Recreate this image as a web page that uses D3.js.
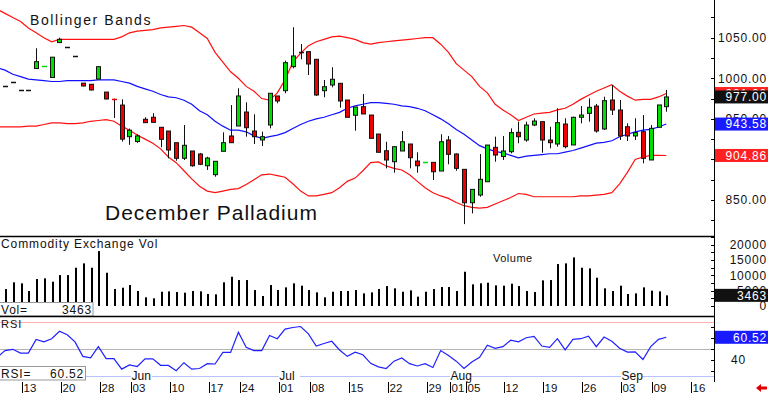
<!DOCTYPE html>
<html>
<head>
<meta charset="utf-8">
<script src="https://cdn.jsdelivr.net/npm/d3@7"></script>
<style>
  html, body { margin: 0; padding: 0; background: #fff; }
  svg { display: block; font-family: "Liberation Sans", Arial, sans-serif; }
</style>
</head>
<body>
<svg id="chart" width="768" height="393"></svg>
<script>
// daily bars, index 0..85
const opens = [990,995,986,986,1012,1014,1001,1044,1039,1027,
  994,992.6,999,983,974.8,967,928,922,949.5,952,
  939.6,935,920.6,901.4,910.4,906.7,892.2,881.2,910,928.9,
  941.2,958.4,935,924,942.4,978.2,984.7,1014.3,1032.8,1032.8,
  1023.4,984.7,991.7,993.8,973.2,954.4,965,954.7,931.3,910.7,
  897.2,910.4,919,898,896.2,896.4,885.7,924,906.7,887.8,
  846.6,856.1,872.5,914.9,903.5,909.5,933.4,923.9,942.4,946.5,
  923.9,919,943.6,917.8,951.9,956.8,965.8,937.5,973.2,960.9,
  940.3,928.9,934.2,899.3,939.6,965];
const highs = [990,995,986,986,1037,1014.6,1026,1050,1039,1027,
  994,992.6,1014.3,983,975,974,938,931,952,957,
  939.6,935,920.6,942.4,910.4,908,903.3,897.7,933.4,967,
  987.7,970.4,955.6,934.2,981.5,978.2,1021.7,1062.9,1042.3,1032.8,
  1023.4,997.9,1013.6,993.8,973.2,964.6,980.6,954.7,931.3,921.8,
  915.7,935,919,908.8,896.6,896.4,931,928.9,907.5,887.8,
  863.1,906.7,917.7,928,928.9,938.3,946.5,946.5,950.7,946.5,
  940.3,963,950.7,952.7,965.8,975.3,968.3,977.3,991.7,973.2,
  944.5,950.7,954.7,942.4,967.1,985.6];
const lows = [990,995,986,986,1012,1014,1001,1044,1039,1027,
  990,985,999,974,951,922,918,920.5,945,945.5,
  915,901.4,898.4,899.3,891,893,887,878.7,910,920.6,
  941.2,928,919,916.5,938.3,969.2,981.5,1012.3,1023.4,1004,
  978.2,976.6,988.9,963.7,951.9,935.4,956,926,908.8,889,
  883.6,910.4,889,883.6,896.2,874.6,885.7,894,886,820.3,
  833.5,854,872.5,897.2,899.3,907.5,919.9,921.8,941,908.3,
  913.7,915.7,913.7,917.8,944.5,946.5,933,936.3,954.7,923.9,
  922.7,923.9,895.2,899.3,939.6,958.8];
const closes = [990,995,986,986,1020.5,1014.6,1026,1048,1039,1027,
  990.5,985.6,1014.3,974.5,974.3,925,936,929,945.3,945.7,
  924.8,911.6,901.4,917.4,892.2,894,901.7,897.7,920.6,920.6,
  978.2,939.1,928,928,981.5,972,1019.2,1027.5,1032.8,1017.6,
  979.4,989.6,998.8,972,951.9,964.6,956,926,908.8,899.3,
  915.7,921.8,902.1,892.2,896.6,884.8,921.8,906.3,889,846.6,
  863.1,875.5,917.7,905.4,910.4,933,928,942.4,947.3,923.9,
  920.6,945.3,915.7,951.9,954.7,964.2,935,972.4,960.9,928.9,
  928.9,933,901.4,938.3,967.1,977];
const volumes = [5520,7700,7370,4870,8770,8990,7900,10060,10060,12440,
  13860,12440,17860,10810,5520,5950,6820,4870,2820,2500,
  4640,4760,4550,4330,4870,4760,3900,3790,7700,9520,
  8440,8440,5190,3250,6820,5190,6060,7370,6600,5190,
  4440,2820,4640,4870,4870,5190,4110,4440,5520,6490,
  5740,4640,5080,3030,4640,5520,6170,6170,4870,11140,
  7040,7370,7570,6710,6600,7250,6490,4870,4550,8330,
  8440,13640,13860,15800,12440,12230,9200,5740,4870,6600,
  3900,4110,6060,4980,4760,3463];

// indicator series start one bar earlier (index -1, just off the left edge)
const rsi = [42, 48.3,49.5,46,46,58.6,56.3,59.2,66,62.8,56.3,
  43,41.6,51.9,41,41,31.3,35.1,33.7,40.7,40.7,
  34.8,34.7,29.8,37.2,31.3,31.9,36.3,36,46.6,46.6,
  65.1,51.3,48.3,48.3,62.2,59.2,68,69.5,70.4,63.7,
  52.5,54.8,56.9,48.9,43,46.9,44.5,36.6,33.4,31.9,
  38.6,41.6,36.3,34.2,36.3,32.8,48.3,43.7,38.6,31.9,
  37.8,42.2,53.3,50.4,51.9,57.8,56.3,60.1,61.3,52.5,
  51.3,59.2,48.9,58.6,59.2,61.6,51.9,60.7,56.9,50.4,
  46.9,47.2,40.1,51.9,58.6,60.52];
const bbUpper = [1085, 1080,1075,1070,1062,1056,1050,1045,1048,1048,1048,
  1048,1048,1048,1048,1048,1051,1056,1058,1059,1060,
  1062,1063,1064,1065,1063,1056,1049,1032,1020,1008,
  1000,990,984,975,973,982,998,1020,1031,1040,
  1045,1048,1051,1052,1050,1048,1044,1042,1044,1045,
  1046,1047,1048,1049,1050,1050,1042,1032,1018,1010,
  1002,990,982,968,961,955,948,952,956,957,
  958,961,963,968,974,979,984,988,992,984,
  978,973,974,974,977,981.2];
const bbMiddle = [1013, 1010,1005,1002,999,998,997,996,996,997,997,
  997,997,998,998,998,996,994,990,987,984,
  980,977,976,973,968,960,955,947,941,936,
  936,934,929,926,928,930,933,938,943,947,
  950,952,955,958,963,966,968,970,970,969,
  968,966,965,963,960,955,950,944,937,931,
  924,917,913,910,908,905,902,904,905,906,
  907,907,909,911,914,917,920,921,923,928,
  931,934,936,937,940,943.58];
const bbLower = [940, 940,940,940,941,941,943,945,945,944,944,
  945,947,948,949,947,941,936,930,925,920,
  913,903,896,886,876,867,861,859,861,863,
  864,869,875,881,882,880,878,870,861,855,
  855,857,859,865,873,877,886,896,897,892,
  889,887,881,873,865,859,855,852,847,843,
  841,840,841,845,849,853,858,857,854,854,
  854,854,854,854,855,855,856,857,859,870,
  884,900,903,905,905,904.86];

const tickIdx = [2,7,12,16,21,26,30,35,39,44,49,54,57,59,64,69,74,79,83,88];
const tickLabels = ["13","20","28","03","10","17","24","01","08","15","22","29","01","05","12","19","26","03","09","16"];
const monthIdx = [16,35,57,79];
const monthLabels = ["Jun","Jul","Aug","Sep"];
const priceTicks = [850,950,1000,1050];
const volTicks = [0,5000,10000,15000,20000];
const rsiTicks = [40];

const svg = d3.select('#chart');
const axisX = 714.5;
const green = '#00dd00', red = '#ee0000';

const x = d3.scaleLinear().domain([0, 85]).range([5, 666.3]);
const yP = d3.scaleLinear().domain([850, 1050]).range([200, 37.7]);
const yV = d3.scaleLinear().domain([0, 20000]).range([306, 244.5]);
const yR = d3.scaleLinear().domain([25, 75]).range([376, 321.5]);

const defs = svg.append('defs');
[['clipP', 0, 0, 714, 236], ['clipV', 0, 237, 714, 79], ['clipR', 0, 317, 714, 65]]
  .forEach(([id, cx, cy, cw, ch]) => {
    defs.append('clipPath').attr('id', id).append('rect')
      .attr('x', cx).attr('y', cy).attr('width', cw).attr('height', ch);
  });

// ---------- price panel ----------
const gP = svg.append('g').attr('clip-path', 'url(#clipP)');
const bandIdx = d3.range(-1, 86);
const bandLine = arr => d3.line().x((d, k) => x(bandIdx[k])).y(d => yP(d))(arr);

gP.append('path').attr('d', bandLine(bbUpper)).attr('fill', 'none').attr('stroke', '#ff1010').attr('stroke-width', 1.2);
gP.append('path').attr('d', bandLine(bbLower)).attr('fill', 'none').attr('stroke', '#ff1010').attr('stroke-width', 1.2);
gP.append('path').attr('d', bandLine(bbMiddle)).attr('fill', 'none').attr('stroke', '#1010ff').attr('stroke-width', 1.2);

const bars = d3.range(86).map(i => ({ i, o: opens[i], h: highs[i], l: lows[i], c: closes[i] }));
const cg = gP.selectAll('g.candle').data(bars).enter().append('g').attr('class', 'candle');

cg.filter(d => d.h !== d.l).append('line')
  .attr('x1', d => Math.round(x(d.i)) + 0.5).attr('x2', d => Math.round(x(d.i)) + 0.5)
  .attr('y1', d => yP(d.h)).attr('y2', d => yP(d.l))
  .attr('stroke', '#111').attr('stroke-width', 1);

const isDash = d => Math.abs(yP(d.o) - yP(d.c)) < 1.2;
cg.filter(d => !isDash(d)).append('rect')
  .attr('x', d => Math.round(x(d.i)) - 1.5)
  .attr('width', 4)
  .attr('y', d => Math.min(yP(d.o), yP(d.c)))
  .attr('height', d => Math.abs(yP(d.o) - yP(d.c)))
  .attr('fill', d => d.c > d.o ? green : red)
  .attr('stroke', '#111').attr('stroke-width', 1);
cg.filter(isDash).append('line')
  .attr('x1', d => Math.round(x(d.i)) - 2).attr('x2', d => Math.round(x(d.i)) + 3)
  .attr('y1', d => Math.round(yP(d.c)) + 0.5).attr('y2', d => Math.round(yP(d.c)) + 0.5)
  .attr('stroke', d => d.c > d.o ? green : d.c < d.o ? red : '#111')
  .attr('stroke-width', 1.5);

svg.append('text').attr('x', 30).attr('y', 25).attr('font-size', 14).attr('letter-spacing', 1.6)
  .attr('fill', '#111').text('Bollinger Bands');
svg.append('text').attr('x', 105).attr('y', 219.5).attr('font-size', 21).attr('letter-spacing', 1)
  .attr('fill', '#111').text('December Palladium');

// ---------- volume panel ----------
const gV = svg.append('g').attr('clip-path', 'url(#clipV)');
gV.selectAll('rect.vol').data(volumes).enter().append('rect')
  .attr('x', (d, i) => Math.round(x(i)))
  .attr('width', 2)
  .attr('y', d => yV(d))
  .attr('height', d => yV(0) - yV(d))
  .attr('fill', '#000');

svg.append('text').attr('x', 1).attr('y', 248).attr('font-size', 12).attr('letter-spacing', 0.9)
  .attr('fill', '#111').text('Commodity Exchange Vol');
svg.append('text').attr('x', 493).attr('y', 262).attr('font-size', 11).attr('letter-spacing', 0.5)
  .attr('fill', '#111').text('Volume');

svg.append('rect').attr('x', -1).attr('y', 302.5).attr('width', 94).attr('height', 13.5)
  .attr('fill', '#fff').attr('stroke', '#999');
svg.append('text').attr('x', 1).attr('y', 313.5).attr('font-size', 12).attr('letter-spacing', 0.8)
  .attr('fill', '#111').text('Vol=');
svg.append('text').attr('x', 92).attr('y', 313.5).attr('font-size', 12).attr('letter-spacing', 0.8)
  .attr('text-anchor', 'end').attr('fill', '#111').text(d3.format('d')(volumes[85]));

// ---------- RSI panel ----------
const gR = svg.append('g').attr('clip-path', 'url(#clipR)');
[[75, '#ffb0b0'], [50, '#b4b4b4'], [25, '#b8c0ff']].forEach(([v, col]) => {
  gR.append('line').attr('x1', 0).attr('x2', 714)
    .attr('y1', Math.round(yR(v)) + 0.5).attr('y2', Math.round(yR(v)) + 0.5)
    .attr('stroke', col).attr('stroke-width', 1);
});
gR.append('path')
  .attr('d', d3.line().x((d, k) => x(bandIdx[k])).y(d => yR(d))(rsi))
  .attr('fill', 'none').attr('stroke', '#2020ff').attr('stroke-width', 1.2);

monthIdx.forEach((mi, k) => {
  const mx = x(mi) + 1.5;
  svg.append('rect').attr('x', mx).attr('y', 369.5).attr('width', 21).attr('height', 11).attr('fill', '#fff');
  svg.append('text').attr('x', mx + 0.5).attr('y', 379.5).attr('font-size', 12)
    .attr('fill', '#111').text(monthLabels[k]);
});

svg.append('text').attr('x', 1).attr('y', 328).attr('font-size', 11).attr('letter-spacing', 1)
  .attr('fill', '#111').text('RSI');
svg.append('rect').attr('x', -1).attr('y', 366.5).attr('width', 86.5).attr('height', 13.5)
  .attr('fill', '#fff').attr('stroke', '#999');
svg.append('text').attr('x', 1).attr('y', 377.5).attr('font-size', 12).attr('letter-spacing', 0.8)
  .attr('fill', '#111').text('RSI=');
svg.append('text').attr('x', 84).attr('y', 377.5).attr('font-size', 12).attr('letter-spacing', 0.8)
  .attr('text-anchor', 'end').attr('fill', '#111').text(d3.format('.2f')(rsi[rsi.length - 1]));

// ---------- panel frames ----------
[236.5, 316.5].forEach(yy => {
  svg.append('line').attr('x1', 0).attr('x2', axisX).attr('y1', yy).attr('y2', yy)
    .attr('stroke', '#000').attr('stroke-width', 1.3);
});
svg.append('line').attr('x1', axisX).attr('x2', axisX).attr('y1', 0).attr('y2', 382)
  .attr('stroke', '#000').attr('stroke-width', 1);

// minor ticks on the right axis
const minor = [];
d3.range(825, 1101, 25).forEach(v => minor.push(yP(v)));
d3.range(0, 22501, 2500).forEach(v => minor.push(yV(v)));
d3.range(30, 71, 10).forEach(v => minor.push(yR(v)));
svg.selectAll('line.minor').data(minor).enter().append('line')
  .attr('x1', axisX - 3.5).attr('x2', axisX)
  .attr('y1', d => Math.round(d) + 0.5).attr('y2', d => Math.round(d) + 0.5)
  .attr('stroke', '#000');

// right axis labels
const rightText = (yy, txt, col, anchor, xx) => svg.append('text')
  .attr('x', xx).attr('y', yy + 4.3).attr('font-size', 12).attr('letter-spacing', 0.8)
  .attr('text-anchor', anchor).attr('fill', col).text(txt);

priceTicks.forEach(v => rightText(yP(v), d3.format('.2f')(v), '#111', 'end', 767));
volTicks.forEach(v => rightText(yV(v), d3.format('d')(v), '#111', 'end', 767));
rsiTicks.forEach(v => rightText(yR(v), d3.format('d')(v), '#111', 'start', 731));

// highlighted last values
const badge = (yy, txt, bg) => {
  svg.append('rect').attr('x', 715).attr('y', yy - 6.5).attr('width', 53).attr('height', 13).attr('fill', bg);
  rightText(yy, txt, '#fff', 'end', 767);
};
badge(yP(bbUpper[bbUpper.length - 1]), d3.format('.2f')(bbUpper[bbUpper.length - 1]), '#ff2020');
badge(yP(bbLower[bbLower.length - 1]), d3.format('.2f')(bbLower[bbLower.length - 1]), '#ff2020');
badge(yP(bbMiddle[bbMiddle.length - 1]), d3.format('.2f')(bbMiddle[bbMiddle.length - 1]), '#1a1aff');
badge(yP(closes[85]), d3.format('.2f')(closes[85]), '#111');
badge(yV(volumes[85]), d3.format('d')(volumes[85]), '#111');
badge(yR(rsi[rsi.length - 1]), d3.format('.2f')(rsi[rsi.length - 1]), '#1a1aff');

// ---------- date axis ----------
tickIdx.forEach((ti, k) => {
  const tx = Math.round(x(ti) + 1.5) + 0.5;
  svg.append('line').attr('x1', tx).attr('x2', tx).attr('y1', 382).attr('y2', 393)
    .attr('stroke', '#000');
  svg.append('text').attr('x', tx + 1).attr('y', 392).attr('font-size', 11.5)
    .attr('fill', '#111').text(tickLabels[k]);
});

// little red arrow, bottom right
svg.append('path')
  .attr('d', 'M756,388 L761,384 L761,386.5 L767,386.5 L767,389.5 L761,389.5 L761,392 Z')
  .attr('fill', '#e00000');
</script>
</body>
</html>
